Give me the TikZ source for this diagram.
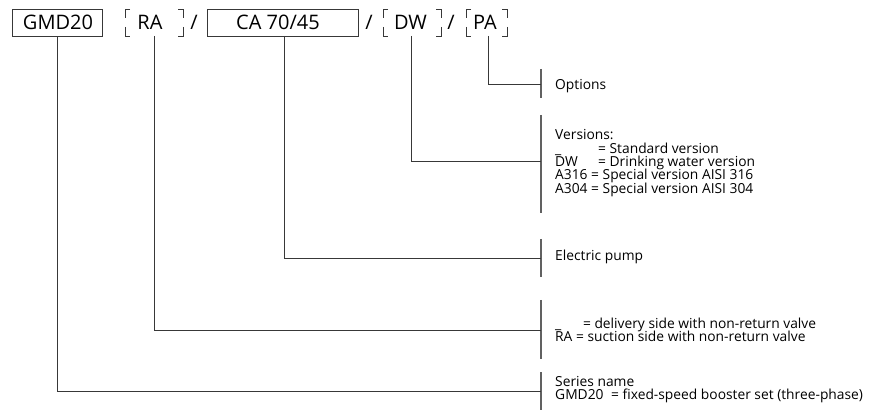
\documentclass[tikz,border=0pt]{standalone}
\usepackage{fontspec}
\usepackage{calc}
\setmainfont{Open Sans}
\begin{document}
\begin{tikzpicture}[x=1pt,y=-1pt,
  ln/.style={draw=black!78,line width=0.9pt},
  bar/.style={draw=black!62,line width=1.2pt},
  topfont/.style={font=\fontsize{20}{22}\selectfont,text height=14.3pt,text depth=0pt},
  codebox/.style={draw=black!78,line width=0.9pt,minimum height=27pt,inner sep=0pt},
  code/.style={inner sep=0pt,topfont},
  desc/.style={inner sep=0pt,anchor=base west,font=\fontsize{13.8}{15}\selectfont}]
\useasboundingbox (0,0) rectangle (888,411);
% top row
\node[codebox,minimum width=90pt] (gmd) at (57,22.5) {};
\node[code] (gmdt) at (58,22.5) {GMD20};
\node[code] (ra) at (150,22.5) {RA};
\coordinate (raB) at (154,36);
\node[code] (s1) at (194,22.5) {/};
\node[codebox,minimum width=151pt] (ca) at (282.5,22.5) {};
\node[code] (cat) at (278,22.5) {CA 70/45};
\coordinate (caB) at (284,36);
\node[code] (s2) at (369,22.5) {/};
\node[code] (dw) at (410.5,22.5) {DW};
\coordinate (dwB) at (411,36);
\node[code] (s3) at (451,22.5) {/};
\node[code] (pa) at (485,22.5) {PA};
\coordinate (paB) at (488,36);
% brackets
\foreach \l/\r in {125/183,383/441,466/507}{
  \draw[ln] (\l+5,9) -- (\l,9) -- (\l,18);
  \draw[ln] (\l,27) -- (\l,36) -- (\l+5,36);
  \draw[ln] (\r-5,9) -- (\r,9) -- (\r,18);
  \draw[ln] (\r,27) -- (\r,36) -- (\r-5,36);
}
% bars
\coordinate (b1t) at (541,69); \coordinate (b1b) at (541,98);
\coordinate (b2t) at (541,115); \coordinate (b2b) at (541,213);
\coordinate (b3t) at (541,239); \coordinate (b3b) at (541,277);
\coordinate (b4t) at (541,300); \coordinate (b4b) at (541,359);
\coordinate (b5t) at (541,372); \coordinate (b5b) at (541,410);
\draw[bar] (b1t) -- (b1b);
\draw[bar] (b2t) -- (b2b);
\draw[bar] (b3t) -- (b3b);
\draw[bar] (b4t) -- (b4b);
\draw[bar] (b5t) -- (b5b);
% connectors
\draw[ln] (paB) |- (541,84.5);
\draw[ln] (dwB) |- (541,161);
\draw[ln] (caB) |- (541,258);
\draw[ln] (raB) |- (541,330);
\draw[ln] (gmd.south) |- (541,391);
% descriptions
\node[desc] (opt) at (555,90) {Options};
\node[desc] (v0) at (555,140) {Versions:};
\node[desc] (v1) at (555,153.3) {\makebox[\widthof{A316 }+7pt][l]{\_}= Standard version};
\node[desc] (v2) at (555,166.6) {\makebox[\widthof{A316 }+7pt][l]{DW}= Drinking water version};
\node[desc] (v3) at (555,179.9) {A316 = Special version AISI 316};
\node[desc] (v4) at (555,193.2) {A304 = Special version AISI 304};
\node[desc] (ep) at (555,261) {Electric pump};
\node[desc] (r1) at (555,328.5) {\makebox[\widthof{RA }+7pt][l]{\_}= delivery side with non-return valve};
\node[desc] (r2) at (555,341.8) {RA = suction side with non-return valve};
\node[desc] (sn) at (555,386.5) {Series name};
\node[desc] (g1) at (555,399.8) {\makebox[\widthof{GMD20 }+4pt][l]{GMD20}= fixed-speed booster set (three-phase)};
\end{tikzpicture}
\end{document}
